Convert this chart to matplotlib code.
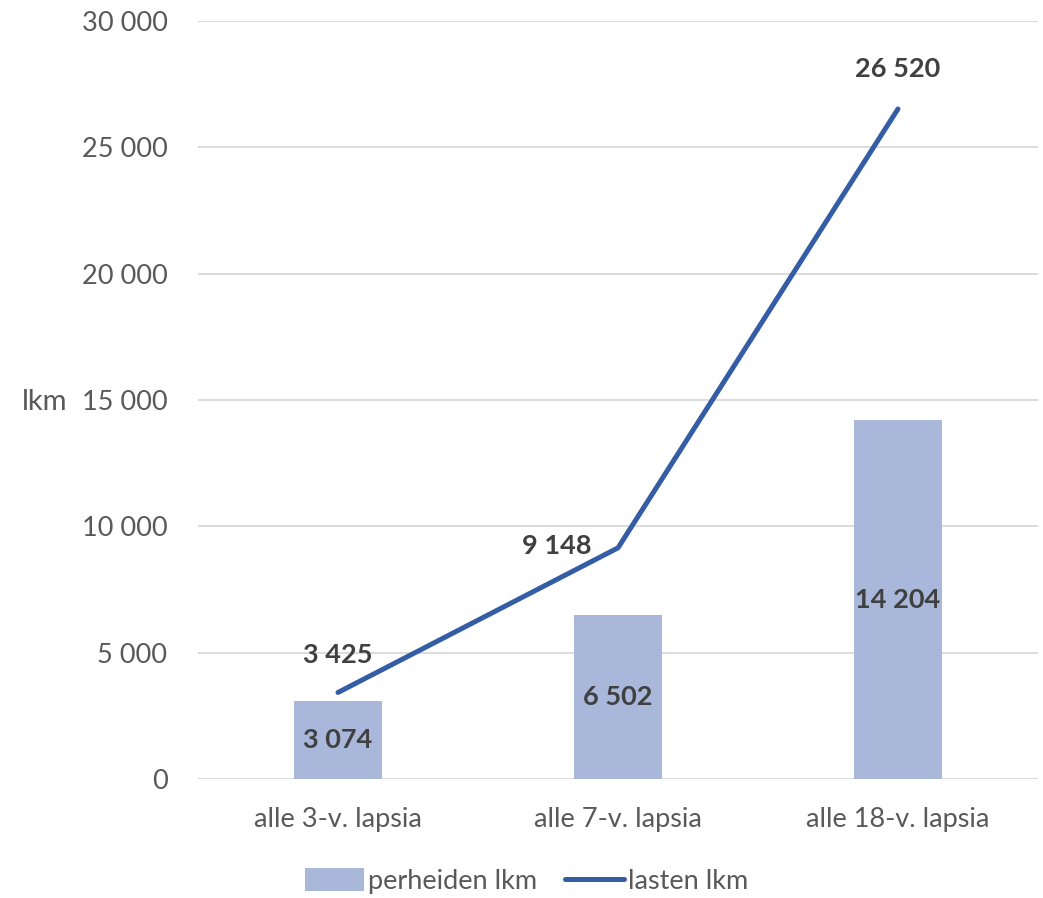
import matplotlib
matplotlib.use("Agg")
import matplotlib.pyplot as plt
from matplotlib.ticker import FuncFormatter

plt.rcParams['font.family'] = ['Lato', 'DejaVu Sans']

categories = ["alle 3-v. lapsia", "alle 7-v. lapsia", "alle 18-v. lapsia"]
perheiden_lkm = [3074, 6502, 14204]
lasten_lkm = [3425, 9148, 26520]
# label offsets for the line series (points)
line_offsets = [(0, 27), (-44, 1), (0, 29)]

bar_color = "#A9B7DB"
line_color = "#345DA6"
text_dark = "#404040"
tick_grey = "#595959"


def fmt(v):
	return f"{int(v):,}".replace(",", " ")


fig = plt.figure(figsize=(10.43, 8.98), dpi=100)
ax = fig.add_axes([198 / 1043, 1 - 779 / 898, 840 / 1043, 758 / 898])

x = list(range(len(categories)))
bars = ax.bar(x, perheiden_lkm, width=0.314, color=bar_color, label="perheiden lkm", zorder=2)
line, = ax.plot(x, lasten_lkm, color=line_color, linewidth=3.6, solid_capstyle='round', label="lasten lkm", zorder=3)

for xi, v in zip(x, perheiden_lkm):
	ax.text(xi, v / 2, fmt(v), ha='center', va='center', fontsize=19.5, fontweight='bold', color=text_dark, zorder=4)
for xi, v, off in zip(x, lasten_lkm, line_offsets):
	ax.annotate(fmt(v), (xi, v), xytext=off, textcoords='offset points', ha='center', va='center',
				fontsize=19.5, fontweight='bold', color=text_dark, zorder=4)

ax.set_xlim(-0.5, 2.5)
ax.set_ylim(0, 30000)
ax.set_yticks(range(0, 30001, 5000))
ax.yaxis.set_major_formatter(FuncFormatter(lambda v, p: fmt(v)))
ax.set_xticks(x)
ax.set_xticklabels(categories)
ax.tick_params(axis='y', length=0, pad=22, labelsize=19.5, labelcolor=tick_grey)
ax.tick_params(axis='x', length=0, pad=20, labelsize=19.5, labelcolor=tick_grey)

ax.grid(axis='y', color="#D9D9D9", linewidth=1.3)
ax.set_axisbelow(True)
for s in ax.spines.values():
	s.set_visible(False)

fig.text(22 / 1043, 1 - 402 / 898, "lkm", ha='left', va='center', fontsize=21, color=tick_grey)

fig.legend([bars, line], ["perheiden lkm", "lasten lkm"], loc='center', bbox_to_anchor=(0.505, 1 - 881 / 898),
		   ncol=2, frameon=False, fontsize=19.5, labelcolor=tick_grey, handlelength=2.2, handletextpad=0.15,
		   columnspacing=1.0, handleheight=0.9)

fig.savefig("out.png", dpi=100)
